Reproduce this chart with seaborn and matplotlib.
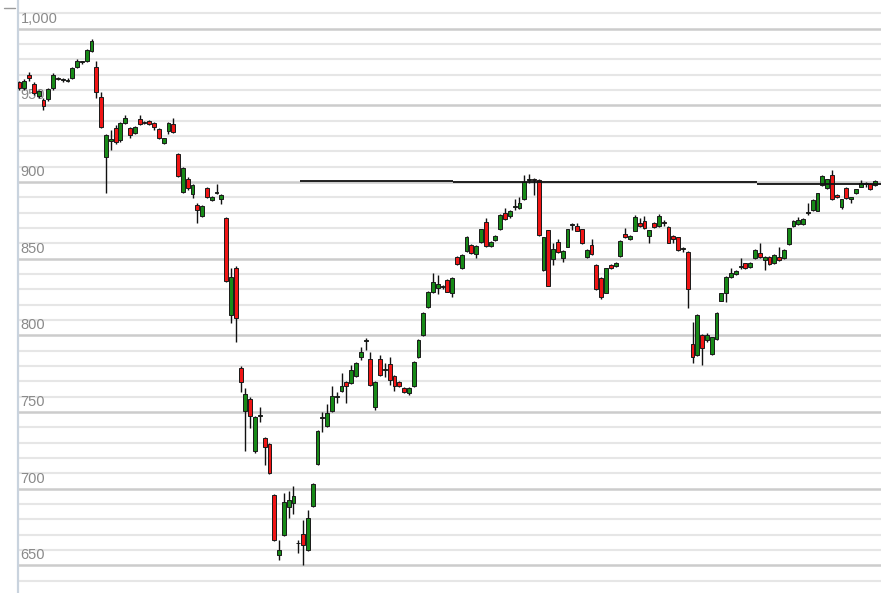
"""
Candlestick chart recreation (daily index, ~180 sessions).
"""

import matplotlib
matplotlib.use("Agg")
import matplotlib.pyplot as plt
import matplotlib.transforms as mtransforms
import seaborn as sns
import numpy as np

# ============================================================
# data
# ============================================================
opens = [
    965, 961, 970, 964, 956, 953.5, 954, 961, 967.5, 966.5,
    966, 967.7, 975.3, 978, 979.1, 985.6, 974.8, 955.6, 916.5, 927,
    935.2, 927.4, 938.7, 935, 931.8, 941, 938.5, 939.8, 938.3, 934.4,
    925.6, 933.5, 937.8, 918.3, 893.7, 902, 892.2, 885, 877.8, 895.9,
    888.3, 893, 888.7, 876.3, 813.2, 843.7, 778.9, 750.8, 758.4, 724.2,
    747.3, 732.8, 729.1, 695.8, 656.5, 669.7, 687.7, 690.8, 664.2, 670.1,
    660, 688.6, 716.1, 746.3, 741, 750.8, 759.6, 763.7, 769.8, 768.7,
    773.3, 786, 796.3, 784.8, 753.4, 784.8, 777.4, 781.3, 773.3, 769.3,
    765.8, 762.5, 767.1, 785.6, 800.2, 818.7, 828.4, 830.7, 831.7, 836.1,
    827.4, 851.3, 843.7, 855.2, 858.9, 853, 861.1, 874.1, 858.3, 862.2,
    869.1, 879.6, 877.8, 883.9, 882.8, 888.7, 901.3, 901.8, 901.3, 842.6,
    868.4, 849.6, 861.1, 850.2, 857.8, 872, 871.3, 869.1, 850.9, 858.9,
    845.9, 837.2, 827.8, 845.9, 845.2, 851.7, 866.1, 862.6, 868.3, 873.5,
    874.8, 864.8, 873.1, 871, 873.5, 870.5, 864.8, 863.9, 856.1, 854.5,
    794.3, 787.1, 800.2, 796.9, 787.8, 797.4, 822.6, 827.8, 837.9, 840,
    844.3, 846.9, 844.7, 850.2, 853.8, 849.1, 850.9, 846.9, 851.3, 850.2,
    859.6, 871.3, 872.6, 872.6, 879.6, 881.7, 881.3, 898, 895.9, 904.6,
    891.5, 883.9, 895.9, 888.7, 892.6, 897, 898.7, 898.7, 898,
]
highs = [
    966, 967, 972, 965, 960, 955, 961, 971, 968.5, 967.5,
    967.5, 975, 980, 979, 987, 993, 978.6, 958.9, 931.5, 934,
    937, 939, 943.7, 936, 936.5, 943.5, 939.5, 940.5, 939, 935,
    929, 939, 941.5, 919, 909.5, 903, 898.5, 886, 885, 896.5,
    891, 899, 892, 877, 843.7, 845, 780, 765.4, 760, 747.3,
    753.4, 733.5, 730, 696.5, 666.4, 697, 698.3, 701.6, 666.5, 679.6,
    685.9, 703.5, 738.5, 750.2, 755.5, 766.6, 763.2, 775.6, 770.5, 780.6,
    782.5, 792.5, 798, 789.3, 770.5, 787.1, 782, 786, 774, 770,
    766.5, 766, 783.5, 797.5, 815, 829, 840.6, 839.5, 833, 837,
    838, 852, 853, 864.5, 859.5, 858.8, 869.6, 876.3, 861.6, 865.3,
    879, 883, 881.8, 888.7, 890, 904.6, 905.5, 902.4, 902, 864.4,
    869, 860, 862.6, 855.5, 869.6, 873.5, 873.5, 869.6, 856, 862.6,
    846.4, 837.7, 844.2, 846.4, 847.9, 862.3, 869.8, 865.3, 878.5, 876.5,
    877.5, 868.9, 873.6, 879, 875, 871, 865.3, 864.4, 857.5, 855,
    808.9, 813.7, 800.7, 801.5, 799.2, 815.2, 827.9, 838.8, 843.7, 842.7,
    850.2, 847.4, 847.9, 856.1, 860.4, 851.4, 851.4, 852.9, 857.4, 856.1,
    870.3, 875.3, 877.4, 876.2, 886.5, 888.8, 893.1, 904.4, 902.2, 907.8,
    892, 889.2, 896.4, 890.5, 895.7, 901, 900, 899.5, 901.5,
]
lows = [
    960, 960, 966, 957, 955, 947, 953, 960, 966.5, 965.5,
    965, 967, 974.5, 977, 978.5, 985, 954.6, 935, 892.6, 921,
    925, 926, 938, 928.5, 931, 937, 937.5, 937, 934, 928,
    925, 931, 932, 903.5, 893, 895, 889.4, 873.5, 877, 889.5,
    887.5, 892, 885.5, 835, 807.8, 795.8, 763.2, 724.2, 739.3, 723.2,
    743.6, 715.5, 709.5, 665.5, 653.3, 669, 681.1, 683.6, 658, 650,
    659.5, 688, 715.5, 737.2, 740.3, 750, 756, 763, 755.6, 768,
    772.5, 783.9, 790.4, 767, 751.3, 773.5, 773, 767.4, 763.4, 766.5,
    762.5, 761, 766.5, 785, 799.5, 818, 827.5, 827, 830, 828,
    825.3, 846, 843, 854.5, 853, 850.4, 860.5, 857.8, 857.8, 861.7,
    868.6, 875.2, 876.3, 882, 882.3, 888.2, 899.2, 891.5, 864.5, 842,
    832, 845.9, 854, 848, 857.3, 868.7, 867.8, 859.5, 850.4, 852.5,
    829.5, 823.5, 827.3, 843.2, 844.7, 851.2, 863.4, 862.1, 867.8, 870.8,
    869.3, 860.4, 870, 870.5, 871.5, 860, 860, 855.1, 854.5, 817.6,
    781.8, 786.5, 780.6, 795.5, 787.3, 796.9, 822.1, 822, 837.4, 839.5,
    843.5, 843.2, 844.2, 849.7, 850.4, 842.6, 846, 846.4, 848.6, 849.7,
    859.1, 870.8, 872.1, 872.1, 878.5, 881.2, 880.8, 897.5, 895.4, 888.2,
    889.5, 882.5, 888.9, 886.1, 892.1, 896.5, 897, 894.5, 897.5,
]
closes = [
    961, 966, 967.5, 958, 959.5, 949.5, 960.5, 970, 967, 967,
    966.5, 974.2, 979.1, 978.5, 986, 992.2, 958.9, 936.1, 930.7, 928,
    926.3, 938.3, 941.5, 930.7, 935.7, 937.8, 938.3, 937.8, 935.7, 928.5,
    928.5, 938.3, 932.8, 903.9, 908.9, 895.9, 898, 881.7, 884.3, 890.4,
    890.4, 893.5, 891.2, 835.6, 837.8, 811.1, 769.7, 761.7, 747.3, 746.9,
    747.8, 726.9, 710, 666.4, 659.8, 691.5, 692.5, 695.1, 664.6, 663.1,
    680.7, 703, 737.8, 747, 749, 760.4, 760, 766.6, 767, 777.4,
    782, 789.3, 796.8, 767.4, 769.8, 773.9, 777.9, 770.8, 766.8, 767.1,
    763.2, 765.4, 782.9, 796.9, 814.3, 828.4, 835, 833.5, 832, 828.4,
    837.2, 846.5, 852.4, 863.9, 853.5, 858.3, 869.1, 858.3, 861.1, 864.8,
    878.5, 875.7, 881.3, 884.4, 886.5, 900.2, 901.8, 901.3, 865.4, 863.9,
    832.2, 856.1, 854.6, 855, 869.1, 872.5, 868.3, 860, 855.6, 853,
    830, 825.2, 843.7, 843.7, 847.4, 861.8, 863.9, 864.8, 877, 871.3,
    869.8, 868.4, 870.5, 877.8, 873, 860.4, 862.6, 855.6, 856.5, 830,
    786, 813.2, 791.5, 800.2, 798.7, 814.7, 827.4, 838.3, 840.9, 842.2,
    844.7, 843.7, 847.4, 855.6, 850.9, 850.9, 846.5, 852.4, 849.1, 855.6,
    869.8, 874.8, 875.2, 875.7, 880, 888.3, 892.6, 903.9, 901.7, 888.7,
    890, 888.7, 889.4, 890, 895.2, 899.2, 899, 895.2, 900.8,
]

# resistance line: segment breakpoints (candle index) and levels
resist_x = [58.4, 90.2, 153.4, 179.5]
resist_y = [900.5, 899.7, 898.5]

y_major = [650, 700, 750, 800, 850, 900, 950, 1000]

# ============================================================
# style
# ============================================================
sns.set_theme(style="white")
plt.rcParams["font.family"] = ["Liberation Sans", "DejaVu Sans"]

UP = "#178a17"
DOWN = "#f01515"

fig = plt.figure(figsize=(8.81, 5.93), dpi=100)
ax = fig.add_axes([18 / 881, 0, 1 - 18 / 881, 1])

o = np.array(opens)
h = np.array(highs)
l = np.array(lows)
c = np.array(closes)
x = np.arange(len(o))

# wicks
ax.vlines(x, l, h, color="#111111", linewidth=1.0, zorder=3)

# bodies
bottom = np.minimum(o, c)
height = np.maximum(np.abs(c - o), 0.6)
colors = [UP if cc >= oo else DOWN for oo, cc in zip(o, c)]
ax.bar(x, height, bottom=bottom, width=0.8, color=colors,
       edgecolor="#1a1a1a", linewidth=0.7, zorder=4)

# resistance line
for i in range(len(resist_y)):
    ax.hlines(resist_y[i], resist_x[i], resist_x[i + 1],
              color="#111111", linewidth=1.3, zorder=5)

# grid: minor every 10, major every 50
ax.set_ylim(631.9, 1018.7)
ax.set_xlim(-0.3, 179.2)
ax.set_yticks(y_major)
ax.set_yticks(np.arange(640, 1020, 10), minor=True)
ax.grid(which="major", axis="y", color="#cccccc", linewidth=1.8, zorder=0)
ax.grid(which="minor", axis="y", color="#e6e6e6", linewidth=1.5, zorder=0)
ax.grid(which="major", axis="x", visible=False)
ax.set_xticks([])
ax.tick_params(axis="y", which="both", length=0, labelleft=False)
ax.set_axisbelow(True)

for side in ["top", "right", "bottom"]:
    ax.spines[side].set_visible(False)
ax.spines["left"].set_color("#c9d3de")
ax.spines["left"].set_linewidth(1.6)

# tick labels drawn inside the plot, above each major line
trans = mtransforms.blended_transform_factory(ax.transAxes, ax.transData)
for v in y_major:
    ax.text(0.003, v + 2.0, f"{v:,}", transform=trans, ha="left",
            va="bottom", fontsize=10.5, color="#8a8a8a", zorder=1)

# small tick dash at the top left, outside the axis
ax.plot([-0.016, -0.004], [1013.5, 1013.5], transform=trans,
        color="#9a9a9a", linewidth=1.0, clip_on=False)

fig.savefig("out.png", dpi=100)
plt.close(fig)
